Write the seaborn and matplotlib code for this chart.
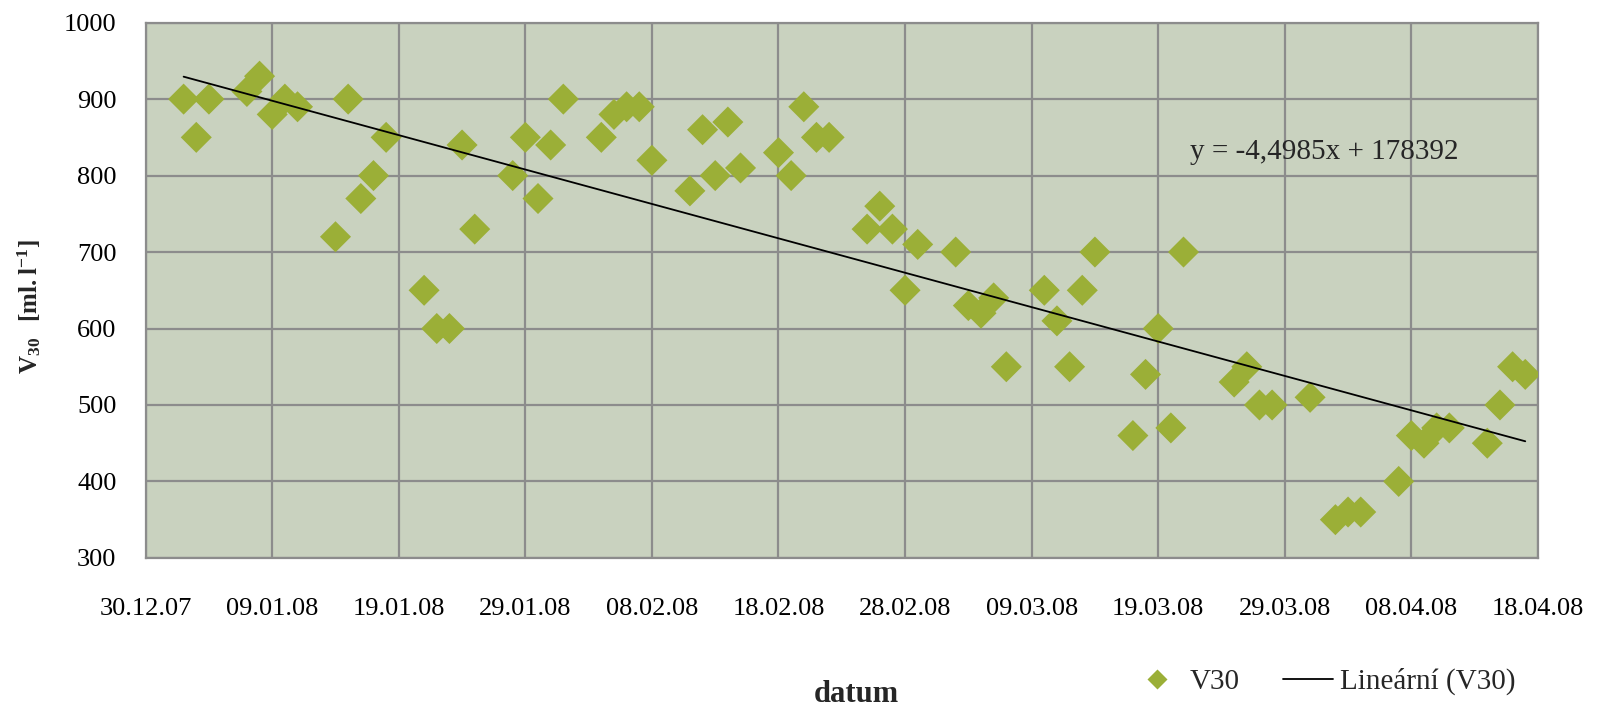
import numpy as np
import pandas as pd
import matplotlib
matplotlib.use("Agg")
import matplotlib.pyplot as plt
import matplotlib.dates as mdates
from matplotlib.lines import Line2D
from matplotlib.ticker import FixedLocator
import seaborn as sns

dates = ["02.01.08", "03.01.08", "04.01.08", "07.01.08", "08.01.08", "09.01.08",
         "10.01.08", "11.01.08", "14.01.08", "15.01.08", "16.01.08", "17.01.08",
         "18.01.08", "21.01.08", "22.01.08", "23.01.08", "24.01.08", "25.01.08",
         "28.01.08", "29.01.08", "30.01.08", "31.01.08", "01.02.08", "04.02.08",
         "05.02.08", "06.02.08", "07.02.08", "08.02.08", "11.02.08", "12.02.08",
         "13.02.08", "14.02.08", "15.02.08", "18.02.08", "19.02.08", "20.02.08",
         "21.02.08", "22.02.08", "25.02.08", "26.02.08", "27.02.08", "28.02.08",
         "29.02.08", "03.03.08", "04.03.08", "05.03.08", "06.03.08", "07.03.08",
         "10.03.08", "11.03.08", "12.03.08", "13.03.08", "14.03.08", "17.03.08",
         "18.03.08", "19.03.08", "20.03.08", "21.03.08", "25.03.08", "26.03.08",
         "27.03.08", "28.03.08", "31.03.08", "02.04.08", "03.04.08", "04.04.08",
         "07.04.08", "08.04.08", "09.04.08", "10.04.08", "11.04.08", "14.04.08",
         "15.04.08", "16.04.08", "17.04.08"]
v30 = [900, 850, 900, 910, 930, 880,
       900, 890, 720, 900, 770, 800,
       850, 650, 600, 600, 840, 730,
       800, 850, 770, 840, 900, 850,
       880, 890, 890, 820, 780, 860,
       800, 870, 810, 830, 800, 890,
       850, 850, 730, 760, 730, 650,
       710, 700, 630, 620, 640, 550,
       650, 610, 550, 650, 700, 460,
       540, 600, 470, 700, 530, 550,
       500, 500, 510, 350, 360, 360,
       400, 460, 450, 470, 470, 450,
       500, 550, 540]
equation = "y = -4,4985x + 178392"

df = pd.DataFrame({"datum": pd.to_datetime(dates, format="%d.%m.%y"), "V30": v30})
df["x"] = mdates.date2num(df["datum"])

sns.set_style("white")
plt.rcParams["font.family"] = ["Liberation Serif", "DejaVu Serif"]
plt.rcParams["mathtext.fontset"] = "custom"
plt.rcParams["mathtext.rm"] = "Liberation Serif"
plt.rcParams["mathtext.bf"] = "Liberation Serif:bold"

green = "#9BAF37"
grid_c = "#8C8C8C"

fig = plt.figure(figsize=(15.97, 7.08), dpi=100)
ax = fig.add_axes([0.0912, 0.212, 0.8718, 0.756])
ax.set_facecolor("#C9D2BF")

sns.scatterplot(data=df, x="x", y="V30", marker="D", s=250, color=green,
                edgecolor="none", ax=ax, zorder=3, legend=False)
sns.regplot(data=df, x="x", y="V30", scatter=False, ci=None, ax=ax,
            line_kws={"color": "black", "lw": 1.3, "zorder": 4})

start = mdates.date2num(pd.Timestamp("2007-12-30"))
ax.set_xlim(start, start + 110)
ax.set_ylim(300, 1000)
ax.xaxis.set_major_locator(FixedLocator(np.arange(start, start + 111, 10)))
ax.xaxis.set_major_formatter(mdates.DateFormatter("%d.%m.%y"))
ax.set_yticks(np.arange(300, 1001, 100))

ax.grid(True, color=grid_c, lw=1.6)
ax.set_axisbelow(True)
for sp in ax.spines.values():
    sp.set_color(grid_c)
    sp.set_linewidth(1.6)
ax.tick_params(axis="both", direction="out", length=9, width=1.2, color=grid_c,
               labelsize=19, labelcolor="black")
ax.tick_params(axis="x", pad=20)
ax.tick_params(axis="y", pad=12)

ax.set_xlabel("")
ax.set_ylabel(r"$\mathbf{V_{30}\ \ [ml.l^{-1}]}$", fontsize=18)
ax.yaxis.set_label_coords(-0.074, 0.47)
fig.text(0.536, 0.009, "datum", fontsize=22, fontweight="bold", ha="center", va="baseline")

ax.text(start + 82.5, 831, equation, fontsize=21, va="center", ha="left")

handles = [Line2D([], [], marker="D", ls="none", color=green, markersize=10, markeredgecolor="none"),
           Line2D([], [], color="black", lw=1.3)]
fig.legend(handles, ["V30", "Lineární (V30)"], ncol=2, frameon=False, fontsize=21,
           loc="center left", bbox_to_anchor=(0.700, 0.037), borderpad=0,
           handlelength=1.7, columnspacing=1.5, handletextpad=0.25)

fig.savefig("out.png", dpi=100)
